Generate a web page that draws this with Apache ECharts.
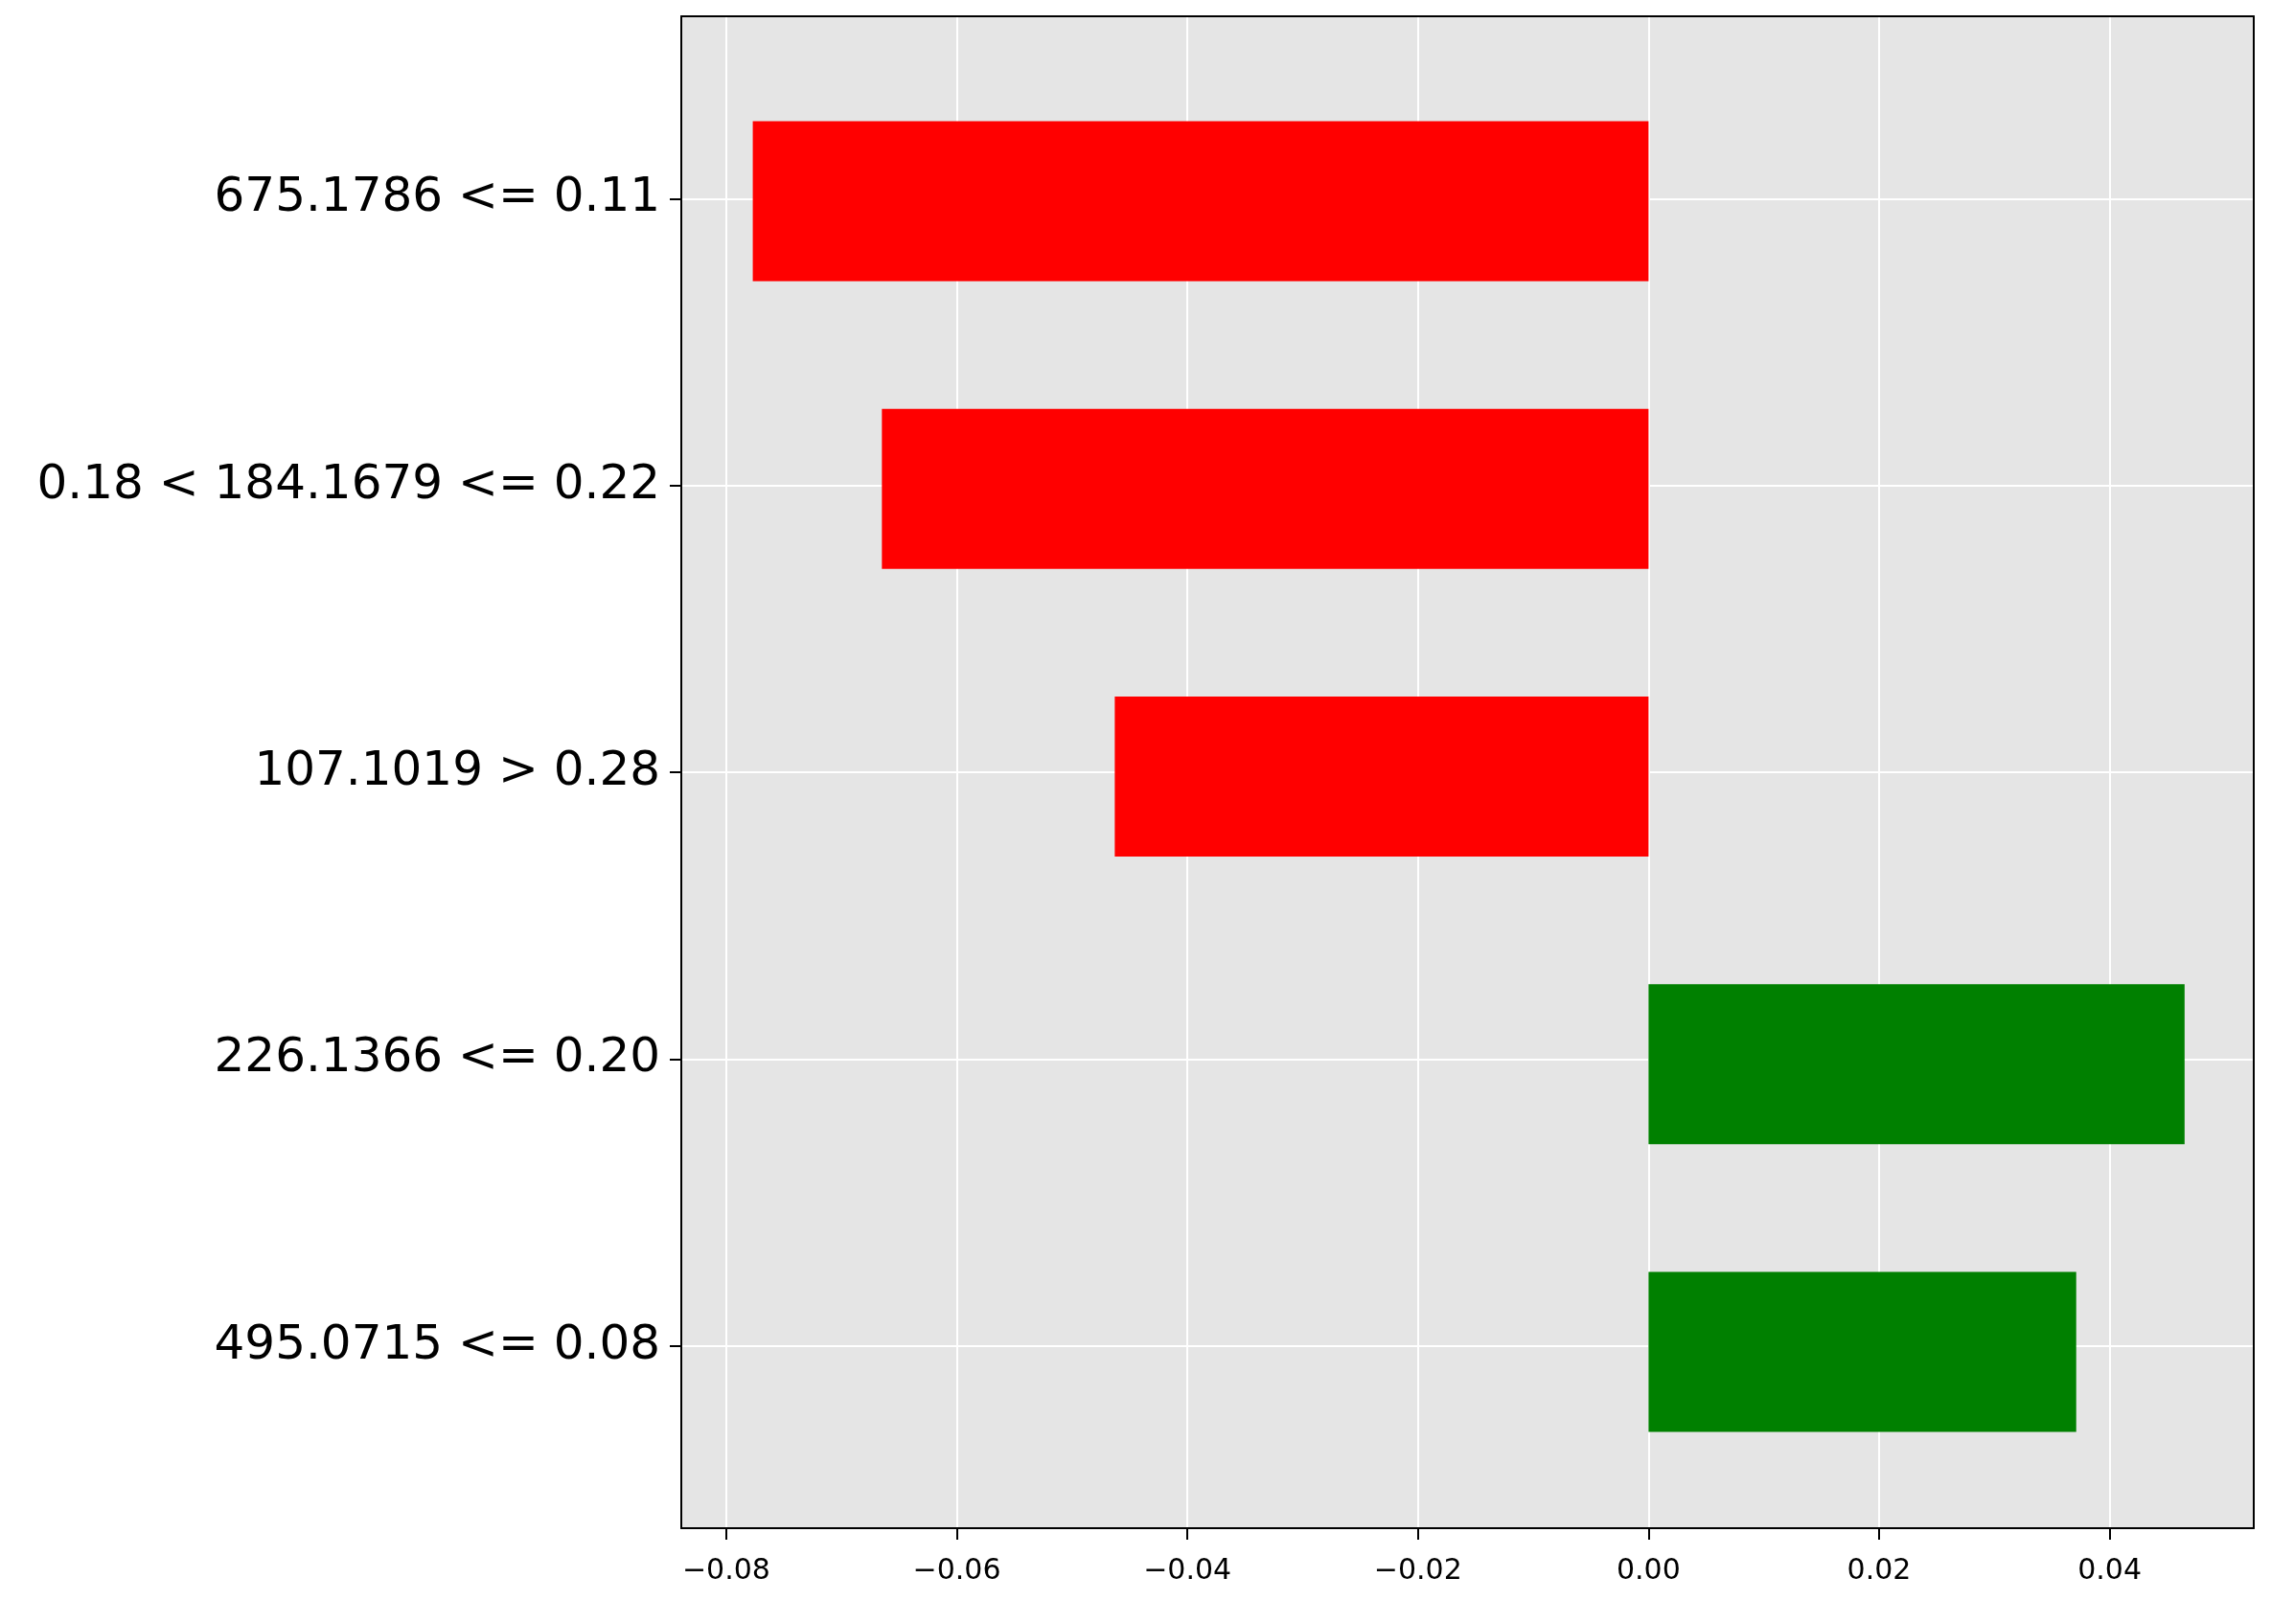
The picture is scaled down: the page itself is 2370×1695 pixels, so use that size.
<!DOCTYPE html>
<html>
<head>
<meta charset="utf-8">
<title>explanation</title>
<script src="https://cdn.jsdelivr.net/npm/echarts@6/dist/echarts.min.js"></script>
</head>
<body style="margin:0;background:#fff">
<div id="main" style="width:2370px;height:1695px;"></div>
<script>
var categories = ['675.1786 <= 0.11', '0.18 < 184.1679 <= 0.22', '107.1019 > 0.28', '226.1366 <= 0.20', '495.0715 <= 0.08'];
var weights = [-0.0777, -0.0665, -0.0463, 0.0465, 0.0371];
var xMin = -0.0839, xMax = 0.0525;
// matplotlib-like vertical padding around the category positions
var yMin = -0.636, yMax = categories.length - 1 + 0.636;

var chart = echarts.init(document.getElementById('main'));
chart.setOption({
    animation: false,
    grid: [
        { left: 711, right: 18, top: 17, bottom: 100, show: true, backgroundColor: '#e5e5e5', borderWidth: 0 },
        { left: 711, right: 18, top: 60, bottom: 134 }
    ],
    xAxis: [{
        gridIndex: 0, type: 'value', min: xMin, max: xMax, splitNumber: 7,
        axisLine: { show: true, onZero: false, lineStyle: { color: '#000', width: 2 } },
        axisTick: { show: true, length: 12, lineStyle: { color: '#000', width: 2 } },
        axisLabel: { showMinLabel: false, showMaxLabel: false, fontSize: 30, color: '#000', margin: 30, fontFamily: 'DejaVu Sans',
            formatter: function (v) { return (v < 0 ? '\u2212' : '') + Math.abs(v).toFixed(2); } },
        splitLine: { lineStyle: { color: '#fff', width: 2 } }
    }, {
        gridIndex: 0, type: 'value', position: 'top', min: xMin, max: xMax,
        axisLine: { show: true, onZero: false, lineStyle: { color: '#000', width: 2 } },
        axisTick: { show: false }, axisLabel: { show: false }, splitLine: { show: false }
    }, {
        gridIndex: 1, type: 'value', min: xMin, max: xMax, show: false
    }],
    yAxis: [{
        gridIndex: 0, type: 'value', inverse: true, min: yMin, max: yMax, splitNumber: 5,
        axisLine: { show: true, onZero: false, lineStyle: { color: '#000', width: 2 } },
        axisTick: { show: true, length: 12, lineStyle: { color: '#000', width: 2 } },
        axisLabel: { showMinLabel: false, showMaxLabel: false, fontSize: 50, color: '#000', margin: 22, fontFamily: 'DejaVu Sans',
            formatter: function (v) { return categories[Math.round(v)] || ''; } },
        splitLine: { lineStyle: { color: '#fff', width: 2 } }
    }, {
        gridIndex: 0, type: 'value', position: 'right', inverse: true, min: yMin, max: yMax,
        axisLine: { show: true, onZero: false, lineStyle: { color: '#000', width: 2 } },
        axisTick: { show: false }, axisLabel: { show: false }, splitLine: { show: false }
    }, {
        gridIndex: 1, type: 'category', data: categories, inverse: true, show: false
    }],
    series: [{
        type: 'bar', xAxisIndex: 2, yAxisIndex: 2, barWidth: 167,
        data: weights.map(function (v) { return { value: v, itemStyle: { color: v < 0 ? '#ff0000' : '#008000' } }; })
    }]
});
</script>
</body>
</html>
